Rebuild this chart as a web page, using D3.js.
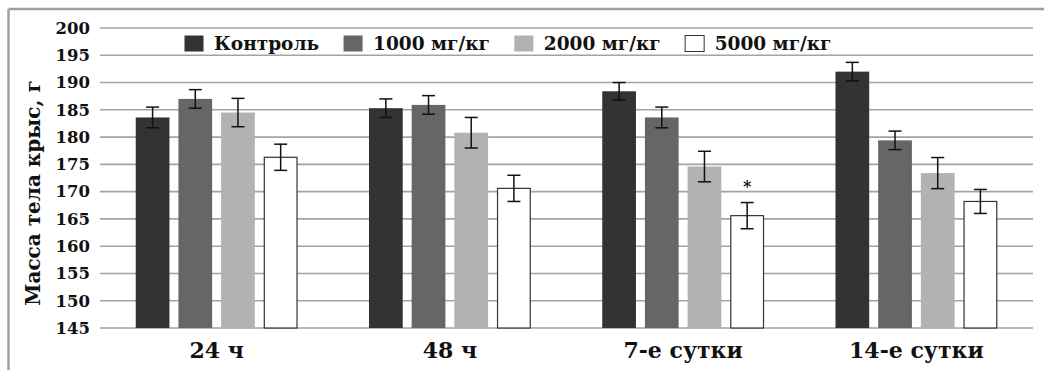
<!DOCTYPE html>
<html>
<head>
<meta charset="utf-8">
<script src="https://cdn.jsdelivr.net/npm/d3@7"></script>
<style>
  html, body { margin: 0; padding: 0; background: #fff; }
  svg { display: block; }
  text { font-family: "DejaVu Serif", "Liberation Serif", serif; font-weight: bold; fill: #111; }
</style>
</head>
<body>
<svg id="chart" width="1044" height="370"></svg>
<script>
// Periods of observation (x groups)
const periods = ["24 ч", "48 ч", "7-е сутки", "14-е сутки"];
// Dose groups (legend)
const groups = ["Контроль", "1000 мг/кг", "2000 мг/кг", "5000 мг/кг"];
// Mean body mass, g — one array per dose group, indexed by period
const control = [183.6, 185.3, 188.4, 192.0];
const dose1000 = [187.0, 185.9, 183.6, 179.4];
const dose2000 = [184.5, 180.8, 174.6, 173.4];
const dose5000 = [176.3, 170.6, 165.6, 168.2];
// Standard error, g
const errControl = [1.9, 1.7, 1.6, 1.7];
const err1000 = [1.7, 1.7, 1.9, 1.7];
const err2000 = [2.6, 2.8, 2.8, 2.85];
const err5000 = [2.4, 2.4, 2.4, 2.2];
// Significance marks (per group, per period)
const marks5000 = ["", "", "*", ""];
// Y axis ticks
const yTicks = [145, 150, 155, 160, 165, 170, 175, 180, 185, 190, 195, 200];
const yTitle = "Масса тела крыс, г";

const series = [
  { name: groups[0], values: control, errors: errControl, marks: ["", "", "", ""], fill: "#333333", stroke: "none" },
  { name: groups[1], values: dose1000, errors: err1000, marks: ["", "", "", ""], fill: "#666666", stroke: "none" },
  { name: groups[2], values: dose2000, errors: err2000, marks: ["", "", "", ""], fill: "#b2b2b2", stroke: "none" },
  { name: groups[3], values: dose5000, errors: err5000, marks: marks5000, fill: "#ffffff", stroke: "#333333" }
];

const svg = d3.select("#chart");
const margin = { left: 100, right: 11, top: 28, bottom: 42 };
const W = 1044, H = 370;
const plotRight = W - margin.right;
const plotBottom = H - margin.bottom;

// Outer frame (top and left edges visible)
svg.append("line").attr("x1", 8.5).attr("x2", W).attr("y1", 9).attr("y2", 9)
  .attr("stroke", "#a0a0a0").attr("stroke-width", 2.5);
svg.append("line").attr("x1", 8.5).attr("x2", 8.5).attr("y1", 9).attr("y2", H)
  .attr("stroke", "#a0a0a0").attr("stroke-width", 2.5);

const y = d3.scaleLinear().domain([145, 200]).range([plotBottom, margin.top]);
const x0 = d3.scaleBand().domain(periods).range([margin.left, plotRight])
  .paddingInner(0.268).paddingOuter(0.134);
const x1 = d3.scaleBand().domain(groups).range([0, x0.bandwidth()])
  .paddingInner(0.21).paddingOuter(0.105);

// Horizontal gridlines
svg.append("g").selectAll("line").data(yTicks).join("line")
  .attr("x1", margin.left).attr("x2", plotRight)
  .attr("y1", d => y(d)).attr("y2", d => y(d))
  .attr("stroke", "#a3a3a3").attr("stroke-width", 1.6);

// Y axis tick labels
const yAxis = d3.axisLeft(y).tickValues(yTicks).tickSize(0).tickPadding(10);
const gy = svg.append("g").attr("transform", `translate(${margin.left},0)`).call(yAxis);
gy.select(".domain").remove();
gy.selectAll("text").attr("font-size", 16.5).attr("font-family", "DejaVu Serif")
  .attr("font-weight", "bold").attr("fill", "#111");

// Y axis title
svg.append("text")
  .attr("transform", `translate(40,${193}) rotate(-90)`)
  .attr("text-anchor", "middle")
  .attr("font-size", 20)
  .text(yTitle);

// Bars
const periodG = svg.append("g").selectAll("g").data(periods).join("g")
  .attr("transform", d => `translate(${x0(d)},0)`);

periodG.each(function(p, i) {
  const g = d3.select(this);
  series.forEach(s => {
    const v = s.values[i], e = s.errors[i];
    const bx = x1(s.name), bw = x1.bandwidth();
    g.append("rect")
      .attr("x", bx + (s.stroke !== "none" ? 0.5 : 0))
      .attr("y", y(v))
      .attr("width", bw - (s.stroke !== "none" ? 1 : 0))
      .attr("height", y(145) - y(v))
      .attr("fill", s.fill)
      .attr("stroke", s.stroke)
      .attr("stroke-width", 1.2);
    const cx = bx + bw / 2, cap = 6.5;
    const eg = g.append("g").attr("stroke", "#111").attr("stroke-width", 1.5);
    eg.append("line").attr("x1", cx).attr("x2", cx).attr("y1", y(v + e)).attr("y2", y(v - e));
    eg.append("line").attr("x1", cx - cap).attr("x2", cx + cap).attr("y1", y(v + e)).attr("y2", y(v + e));
    eg.append("line").attr("x1", cx - cap).attr("x2", cx + cap).attr("y1", y(v - e)).attr("y2", y(v - e));
    if (s.marks[i]) {
      g.append("text").attr("x", cx).attr("y", y(v + e) - 11)
        .attr("text-anchor", "middle").attr("font-size", 16).text(s.marks[i]);
    }
  });
});

// X axis category labels
svg.append("g").selectAll("text").data(periods).join("text")
  .attr("x", d => x0(d) + x0.bandwidth() / 2)
  .attr("y", plotBottom + 30)
  .attr("text-anchor", "middle")
  .attr("font-size", 22)
  .text(d => d);

// Legend
const legend = svg.append("g").attr("transform", "translate(184,35)");
let lx = 0;
series.forEach(s => {
  const item = legend.append("g").attr("transform", `translate(${lx},0)`);
  item.append("rect").attr("x", 0.5).attr("y", 0.5).attr("width", 19).attr("height", 16)
    .attr("fill", s.fill).attr("stroke", s.stroke === "none" ? "none" : "#333").attr("stroke-width", 1);
  const t = item.append("text").attr("x", 30).attr("y", 15).attr("font-size", 18.5).text(s.name);
  lx += 30 + t.node().getComputedTextLength() + 24;
});
</script>
</body>
</html>
